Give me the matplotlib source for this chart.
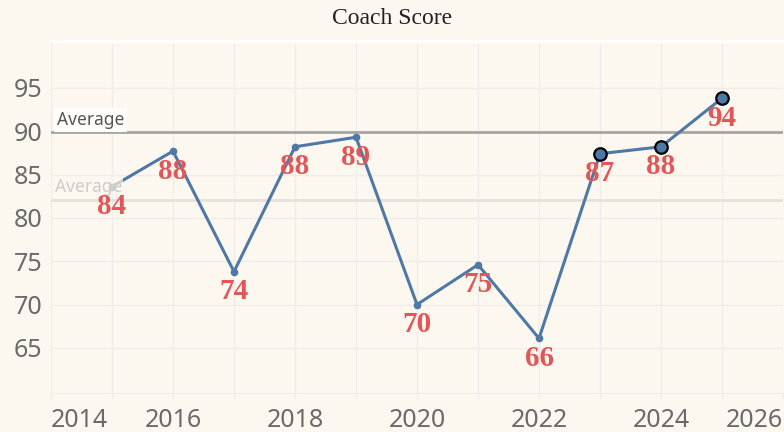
import matplotlib
matplotlib.use("Agg")
import matplotlib.pyplot as plt

years = [2015, 2016, 2017, 2018, 2019, 2020, 2021, 2022, 2023, 2024, 2025]
scores = [83.6, 87.7, 73.8, 88.2, 89.3, 70.0, 74.6, 66.1, 87.4, 88.2, 93.8]
labels = ["84", "88", "74", "88", "89", "70", "75", "66", "87", "88", "94"]
highlight_years = [2023, 2024, 2025]
avg_lines = [89.9, 82.1]
y_ticks = [65, 70, 75, 80, 85, 90, 95]
x_ticks = list(range(2014, 2027))
x_tick_labels = ["2014", "", "2016", "", "2018", "", "2020", "", "2022", "", "2024", "", "2026"]

BG = "#fdf8ef"
LINE = "#4e79a7"
RED = "#e15759"
GRID = "#eeede9"

fig = plt.figure(figsize=(7.84, 4.32), dpi=100, facecolor=BG)
ax = fig.add_axes([51/784, 1-393/432, 732/784, 352/432], facecolor=BG)

ax.set_xlim(2014, 2026)
ax.set_ylim(59.8, 100.4)

ax.set_xticks(x_ticks)
ax.set_xticklabels(x_tick_labels)
ax.set_yticks(y_ticks)
ax.grid(True, color=GRID, lw=1, zorder=0)

for s in ["left", "right"]:
    ax.spines[s].set_visible(False)
ax.spines["top"].set_color("white")
ax.spines["top"].set_linewidth(2.5)
ax.spines["bottom"].set_color(GRID)

ax.tick_params(axis="y", length=0, pad=6, labelsize=18, labelcolor="#6a6a6a")
ax.tick_params(axis="x", length=4, color=GRID, pad=7, labelsize=18, labelcolor="#6a6a6a")
for t in ax.get_xticklabels() + ax.get_yticklabels():
    t.set_fontfamily("Noto Sans")
xl = ax.get_xticklabels()
xl[0].set_ha("left")
xl[-1].set_ha("right")

# reference lines
ax.axhline(avg_lines[0], color="#a8a6a2", lw=2, zorder=2)
ax.axhline(avg_lines[1], color="#e6e2db", lw=2, zorder=2)

ax.plot(years, scores, color=LINE, lw=2.2, marker="o", ms=4.5, zorder=3)
hx = [y for y in years if y in highlight_years]
hy = [s for y, s in zip(years, scores) if y in highlight_years]
ax.plot(hx, hy, ls="none", marker="o", ms=9, mfc=LINE, mec="black", mew=1.6, zorder=4)

ax.text(2014.1, avg_lines[0] + 1.4, "Average", fontfamily="Noto Sans", fontsize=12.5,
        color="#555555", va="center", ha="left", zorder=5,
        bbox=dict(boxstyle="square,pad=0.15", fc="#fffdf9", ec="none"))
ax.text(2014.06, avg_lines[1] + 1.5, "Average", fontfamily="Noto Sans", fontsize=12.5,
        color="#cfcbc6", va="center", ha="left", zorder=5,
        bbox=dict(boxstyle="square,pad=0.05", fc=BG, ec="none", alpha=0.7))

for x, y, lab in zip(years, scores, labels):
    ax.annotate(lab, (x, y), xytext=(0, -14.5), textcoords="offset points",
                ha="center", va="center", family=["Liberation Serif", "DejaVu Serif"],
                weight="bold", fontsize=21, color=RED, zorder=6)

fig.text(0.5, 1 - 18/432, "Coach Score", ha="center", va="center",
         fontfamily="Liberation Serif", fontsize=17, color="#222222")

fig.savefig("out.png", dpi=100, facecolor=BG)
